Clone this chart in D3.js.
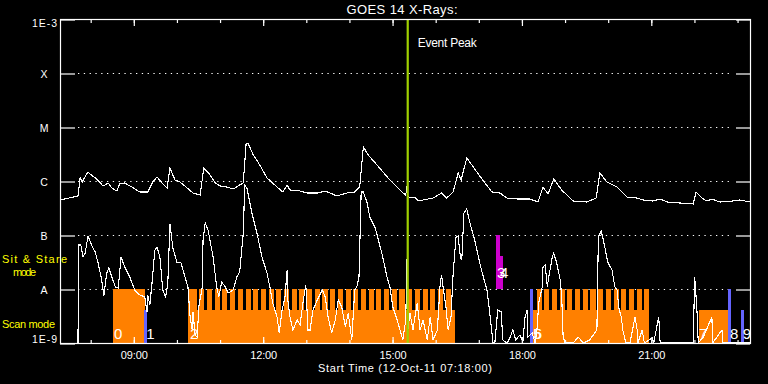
<!DOCTYPE html>
<html><head><meta charset="utf-8">
<script src="https://cdn.jsdelivr.net/npm/d3@7"></script>
<style>html,body{margin:0;padding:0;background:#000;}svg{display:block;}</style>
</head><body><svg id="chart" width="768" height="384"></svg>
<script>
// ---------- DATA ----------
const titleText = "GOES 14 X-Rays:";
const axisTitle = "Start Time (12-Oct-11 07:18:00)";
const startTime = "2011-10-12T07:18:00Z";
const spanMinutes = 960;            // plotted span, minutes after start
const eventPeakMinute = 483.8;      // minutes after start
const levelValues = [1e-9, 1e-8, 1e-7, 1e-6, 1e-5, 1e-4, 1e-3];
const levelLabels = ["1E-9", "A", "B", "C", "M", "X", "1E-3"];
const gridLevels = [1e-8, 1e-7, 1e-6, 1e-5, 1e-4];

// long channel (1-8 A): minutes after start, flux W/m^2
const longT = [0,25,28,31,33,39,45,51,60,67,72,79,83,90,100,111,122,129,135,142,149,153,160,167,177,185,195,200,209,216,223,232,241,250,255,259,262,269,278,288,302,310,316,320,334,344,358,369,376,385,399,410,415,417,422,429,441,459,477,481,483,484,487,494,498,505,519,531,538,547,554,558,566,575,587,601,612,622,636,654,665,672,679,687,698,714,733,746,751,761,775,789,803,811,825,835,845,863,881,885,893,900,907,918,936,946,960];
const longFlux = [4.45e-7,5.28e-7,1.14e-6,9.58e-7,1.09e-6,1.47e-6,1.24e-6,1.09e-6,8.08e-7,9.18e-7,7.42e-7,6.53e-7,8.80e-7,9.18e-7,7.74e-7,6.26e-7,6.26e-7,9.58e-7,1.19e-6,9.18e-7,7.42e-7,1.74e-6,1.04e-6,9.58e-7,7.42e-7,5.99e-7,5.51e-7,1.74e-6,1.29e-6,9.18e-7,8.08e-7,7.74e-7,7.11e-7,8.43e-7,9.18e-7,5.05e-6,4.84e-6,3.03e-6,1.98e-6,1.14e-6,7.74e-7,6.26e-7,8.43e-7,6.81e-7,6.53e-7,5.99e-7,5.99e-7,6.53e-7,5.99e-7,5.28e-7,5.99e-7,6.26e-7,7.42e-7,7.74e-7,4.26e-6,3.03e-6,1.98e-6,1.04e-6,5.99e-7,5.51e-7,8.43e-7,5.28e-7,4.84e-7,5.05e-7,4.26e-7,4.45e-7,4.84e-7,5.99e-7,4.84e-7,6.26e-7,1.41e-6,1.04e-6,2.67e-6,1.82e-6,1.09e-6,6.26e-7,5.99e-7,4.84e-7,4.64e-7,4.64e-7,4.08e-7,7.74e-7,5.75e-7,1.09e-6,6.81e-7,4.26e-7,4.08e-7,4.84e-7,1.41e-6,9.58e-7,7.74e-7,5.05e-7,4.84e-7,4.45e-7,4.26e-7,4.64e-7,4.08e-7,3.91e-7,3.75e-7,6.26e-7,4.84e-7,4.26e-7,4.64e-7,4.08e-7,4.26e-7,4.45e-7,4.08e-7];

// short channel (0.5-4 A): [minutes after start, flux]
const shortChannel = [[25,1.0e-9],[26,6.53e-8],[29,6.53e-8],[32,3.91e-8],[35,4.64e-8],[39,9.58e-8],[45,5.99e-8],[49,4.84e-8],[53,3.03e-8],[58,1.47e-8],[61,7.42e-9],[65,1.98e-8],[68,2.45e-8],[72,1.67e-8],[77,1.09e-8],[81,1.04e-8],[85,3.91e-8],[90,2.55e-8],[97,1.67e-8],[104,9.58e-9],[111,7.74e-9],[118,7.11e-9],[121,3.75e-9],[122,7.74e-9],[125,5.05e-9],[128,1.29e-8],[132,5.28e-8],[135,5.99e-8],[139,3.91e-8],[143,9.58e-9],[147,7.11e-9],[150,1.29e-8],[153,1.60e-7],[157,5.75e-8],[163,3.03e-8],[168,3.16e-8],[174,1.67e-8],[178,1.09e-8],[181,3.03e-9],[184,1.74e-9],[185,3.75e-9],[188,1.41e-9],[191,1.29e-9],[193,4.64e-9],[198,1.09e-8],[199,8.08e-8],[202,1.67e-7],[206,1.24e-7],[213,3.91e-8],[218,1.09e-8],[221,7.11e-9],[225,1.35e-8],[230,1.09e-8],[234,8.43e-9],[241,9.58e-9],[246,1.67e-8],[250,2.06e-8],[255,1.09e-7],[257,8.43e-7],[260,7.42e-7],[267,2.55e-7],[274,1.09e-7],[281,3.91e-8],[288,1.98e-8],[292,1.09e-8],[296,5.51e-9],[302,3.03e-9],[305,1.53e-9],[309,4.08e-9],[313,7.11e-9],[316,2.25e-8],[317,6.26e-9],[320,3.03e-9],[324,1.74e-9],[330,2.67e-9],[334,2.15e-9],[338,5.51e-9],[342,1.19e-8],[345,1.74e-9],[348,1.74e-9],[352,4.08e-9],[358,6.26e-9],[365,9.58e-9],[369,7.11e-9],[373,3.03e-9],[378,1.53e-9],[383,2.67e-9],[387,6.26e-9],[392,4.64e-9],[397,1.98e-9],[401,3.60e-9],[406,1.14e-9],[410,9.58e-9],[413,1.09e-8],[416,1.67e-8],[419,6.26e-7],[422,6.26e-7],[427,4.08e-7],[431,2.15e-7],[438,1.41e-7],[442,9.18e-8],[449,3.91e-8],[455,1.67e-8],[459,1.09e-8],[463,4.64e-9],[469,2.67e-9],[473,1.74e-9],[477,1.14e-9],[481,2.67e-9],[483,4.26e-8],[484,1.74e-9],[487,3.60e-9],[491,1.74e-9],[497,5.51e-9],[501,1.74e-9],[505,2.67e-9],[511,1.14e-9],[515,3.03e-9],[519,1.14e-9],[525,1.74e-9],[529,1.29e-8],[531,1.82e-8],[533,1.09e-8],[537,4.64e-9],[540,1.74e-9],[544,3.03e-9],[547,1.98e-8],[551,9.18e-8],[554,9.58e-8],[557,3.91e-8],[559,3.44e-8],[562,2.55e-7],[566,3.03e-7],[570,1.74e-7],[577,8.08e-8],[584,3.03e-8],[589,1.67e-8],[594,9.58e-9],[597,4.64e-9],[601,1.53e-9],[602,1.0e-9],[605,1.0e-9],[609,4.08e-9],[614,3.75e-9],[616,1.14e-9],[622,1.0e-9],[626,1.24e-9],[630,1.74e-9],[634,1.14e-9],[640,1.41e-9],[644,1.04e-9],[647,3.03e-9],[650,4.08e-9],[651,1.29e-9],[657,1.53e-9],[661,1.0e-9],[664,1.98e-9],[666,5.51e-9],[671,1.09e-8],[672,2.55e-8],[675,2.78e-8],[678,1.09e-8],[680,1.67e-8],[685,3.91e-8],[687,4.64e-8],[691,3.03e-8],[696,1.47e-8],[698,7.11e-9],[700,1.29e-9],[703,1.0e-9],[714,1.0e-9],[721,1.29e-9],[728,1.0e-9],[737,1.14e-9],[747,1.74e-9],[749,9.18e-8],[753,1.19e-7],[755,9.18e-8],[758,5.99e-8],[762,3.16e-8],[768,2.25e-8],[772,1.09e-8],[775,9.58e-9],[778,4.08e-9],[781,3.03e-9],[783,1.74e-9],[787,1.04e-9],[793,1.0e-9],[800,3.03e-9],[803,1.74e-9],[804,1.0e-9],[810,1.74e-9],[813,1.0e-9],[824,1.24e-9],[826,1.0e-9],[833,3.03e-9],[835,1.0e-9],[881,1.0e-9],[883,1.67e-8],[886,4.64e-9],[888,1.0e-9],[895,1.29e-9],[907,3.03e-9],[908,1.0e-9],[921,1.74e-9],[922,1.0e-9],[960,1.0e-9]];

// observing-mode intervals [start, end] in minutes after start
const scanTall = [[73.7,118.3],
 [178.1,190.2],[193.8,200.9],[204.5,211.6],[215.2,222.3],[225.9,233.0],[236.6,243.8],[247.4,254.5],[258.1,265.2],[268.8,275.9],[279.5,286.6],[290.2,297.3],[300.9,308.0],[311.6,318.7],[322.3,329.4],[333.0,340.1],[343.7,350.9],[354.5,361.6],[365.2,372.3],[375.9,383.0],[386.6,393.7],[397.3,404.4],[408.0,415.1],[418.7,425.8],[429.4,436.5],[440.1,447.2],[450.8,458.0],[461.6,468.7],[472.3,479.4],[483.0,490.1],[493.7,500.8],[504.4,511.5],[515.1,522.2],[525.8,532.9],[536.5,544.0],
 [663.0,670.1],[673.7,680.8],[684.4,691.5],[695.1,702.2],[705.8,712.9],[716.6,723.7],[727.3,734.4],[738.0,745.1],[748.7,755.8],[759.4,766.5],[770.1,777.2],[780.8,787.9],[791.5,798.6],[802.2,809.3],[812.9,819.5]];
const scanShort = [[178.1,549.6],[658.1,819.5],[889.0,929.5]];
const calTall = [[653.5,658.1],[929.5,933.7]];
const calShort = [[116.2,120.4],[947.5,951.7]];
const sitTall = [[606.6,612.2]];
const sitShort = [[612.2,616.4]];
// sequence numbers: [label, minute, band]
const seqLabels = [["0",75,"scan"],["1",120,"scan"],["2",181,"scan"],["3",608,"sit"],["4",612,"sit"],["5",658,"scan"],["6",659,"scan"],["7",889,"scan"],["8",932,"scan"],["9",950,"scan"]];

// ---------- DRAW ----------
const svg = d3.select("#chart");
const P = {left:60, right:750, top:19, bottom:343};
const FONT = "'Liberation Sans', Arial, sans-serif";
const t0 = new Date(startTime);
const toDate = m => new Date(t0.getTime() + m * 60000);
const x = d3.scaleUtc().domain([t0, toDate(spanMinutes)]).range([P.left, P.right]);
const y = d3.scaleLog().domain([1e-9, 1e-3]).range([P.bottom, P.top]);

svg.append("rect").attr("width",768).attr("height",384).attr("fill","#000");

// dotted grid lines
svg.append("g").selectAll("line").data(gridLevels).join("line")
  .attr("x1", 78).attr("x2", 733)
  .attr("y1", d => Math.round(y(d)) + 0.5).attr("y2", d => Math.round(y(d)) + 0.5)
  .attr("stroke", "#fff").attr("stroke-width", 1.2).attr("stroke-dasharray", "1.3,4.5");

// mode bars
const SHORT = 0.61;
function bars(data, lo, hi, frac, color) {
  const yl = y(lo), yh = y(hi);
  const top = yl - frac * (yl - yh);
  svg.append("g").attr("shape-rendering","crispEdges").selectAll("rect").data(data).join("rect")
    .attr("x", d => x(toDate(d[0])))
    .attr("width", d => x(toDate(d[1])) - x(toDate(d[0])))
    .attr("y", top).attr("height", yl - top)
    .attr("fill", color);
}
const ORANGE = "#ff8000", BLUE = "#6464ff", MAGENTA = "#cc00cc";
bars(scanShort, 1e-9, 1e-8, SHORT, ORANGE);
bars(scanTall, 1e-9, 1e-8, 1, ORANGE);
bars(calTall, 1e-9, 1e-8, 1, BLUE);
bars(calShort, 1e-9, 1e-8, SHORT, BLUE);
bars(sitTall, 1e-8, 1e-7, 1, MAGENTA);
bars(sitShort, 1e-8, 1e-7, SHORT, MAGENTA);

// curves
svg.append("clipPath").attr("id","clip").append("rect")
  .attr("x",P.left).attr("y",P.top).attr("width",P.right-P.left).attr("height",P.bottom-P.top);
const line = d3.line().x(d => x(toDate(d[0]))).y(d => y(d[1]));
const longData = longT.map((t,i) => [t, longFlux[i]]);
[longData, shortChannel].forEach(series => {
  svg.append("path").datum(series).attr("d", line).attr("clip-path","url(#clip)")
    .attr("fill","none").attr("stroke","#fff").attr("stroke-width",1.1)
    .attr("shape-rendering","crispEdges");
});

// event peak
const xe = x(toDate(eventPeakMinute));
svg.append("line").attr("x1",xe).attr("x2",xe).attr("y1",P.top).attr("y2",P.bottom)
  .attr("stroke","#a0d000").attr("stroke-width",2.2);
svg.append("text").attr("x", xe + 10).attr("y", 47).text("Event Peak")
  .attr("fill","#fff").attr("font-family",FONT).attr("font-size",12).attr("textLength",59);

// frame
svg.append("rect").attr("x",P.left+0.5).attr("y",P.top+0.5)
  .attr("width",P.right-P.left).attr("height",P.bottom-P.top)
  .attr("fill","none").attr("stroke","#fff").attr("stroke-width",1.2);

// x axes (ticks)
function styleAxis(g){ g.select(".domain").remove(); g.selectAll("line").attr("stroke","#fff").attr("stroke-width",1.2); }
const hourly = d3.utcHour.every(1), threeHourly = d3.utcHour.every(3);
svg.append("g").attr("transform",`translate(0.5,${P.top})`)
  .call(d3.axisBottom(x).ticks(hourly).tickSize(4).tickFormat("")).call(styleAxis);
svg.append("g").attr("transform",`translate(0.5,${P.top})`)
  .call(d3.axisBottom(x).ticks(threeHourly).tickSize(7).tickFormat("")).call(styleAxis);
svg.append("g").attr("transform",`translate(0.5,${P.bottom+1})`)
  .call(d3.axisTop(x).ticks(hourly).tickSize(4).tickFormat("")).call(styleAxis);
const xb = svg.append("g").attr("transform",`translate(0.5,${P.bottom+1})`)
  .call(d3.axisTop(x).ticks(threeHourly).tickSize(7).tickFormat(d3.utcFormat("%H:%M"))).call(styleAxis);
xb.selectAll("text").attr("y", 15).attr("dy", null).attr("fill","#fff")
  .attr("font-family",FONT).attr("font-size",11).attr("textLength",27).attr("text-anchor","middle");

svg.append("text").attr("x",405).attr("y",372).attr("text-anchor","middle").text(axisTitle)
  .attr("fill","#fff").attr("font-family",FONT).attr("font-size",11).attr("textLength",174);
svg.append("text").attr("x",402).attr("y",14).attr("text-anchor","middle").text(titleText)
  .attr("fill","#fff").attr("font-family",FONT).attr("font-size",13).attr("textLength",111);

// y axes
const yl = svg.append("g").attr("transform",`translate(${P.left},0.5)`)
  .call(d3.axisRight(y).tickValues(levelValues).tickSize(15).tickFormat((d,i)=>levelLabels[i])).call(styleAxis);
yl.selectAll("text").remove();
svg.append("g").attr("transform",`translate(${P.right},0.5)`)
  .call(d3.axisLeft(y).tickValues(levelValues).tickSize(14).tickFormat("")).call(styleAxis);
svg.append("g").selectAll("text").data(levelValues).join("text")
  .attr("x",(d,i)=> levelLabels[i].length > 1 ? 57 : 44)
  .attr("text-anchor",(d,i)=> levelLabels[i].length > 1 ? "end" : "middle")
  .attr("y",(d,i)=> i === 0 ? 343 : (i === levelValues.length-1 ? 27 : y(d) + 4.5))
  .attr("textLength",(d,i)=> levelLabels[i].length > 1 ? 25 : null)
  .attr("fill","#fff").attr("font-family",FONT).attr("font-size",10.5)
  .text((d,i)=>levelLabels[i]);

// mode labels
const modeText = [["Sit & Stare",2,262.5,65],["mode",13,275.5,23],["Scan mode",2,328,53]];
svg.append("g").selectAll("text").data(modeText).join("text")
  .attr("x",d=>d[1]).attr("y",d=>d[2]).attr("textLength",d=>d[3]).text(d=>d[0])
  .attr("fill","#ffff00").attr("font-family",FONT).attr("font-size",11);

// sequence numbers
svg.append("g").selectAll("text").data(seqLabels).join("text")
  .attr("x", d => x(toDate(d[1])))
  .attr("y", d => d[2] === "scan" ? 339 : 278)
  .text(d => d[0])
  .attr("fill","#fff").attr("font-family",FONT).attr("font-size",15);
</script></body></html>
